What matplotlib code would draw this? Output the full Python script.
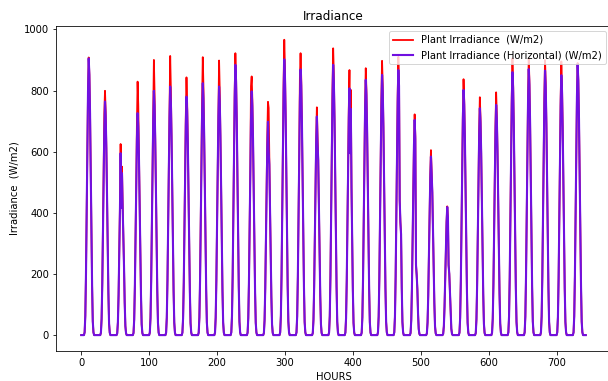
import matplotlib
matplotlib.use("Agg")
import matplotlib.pyplot as plt
import numpy as np

# hourly readings, 31 days, sunlit hours 5..18 (night readings are 0)
n_days = 31
day_hours = [5, 6, 7, 8, 9, 10, 11, 12, 13, 14, 15, 16, 17, 18]

horizontal_day = [
    [9, 63, 199, 407, 615, 796, 905, 851, 724, 543, 344, 163, 45, 9],
    [8, 53, 168, 344, 520, 672, 764, 718, 611, 458, 290, 138, 38, 8],
    [6, 42, 131, 268, 405, 595, 416, 530, 420, 330, 226, 107, 30, 6],
    [7, 51, 160, 327, 494, 639, 726, 682, 581, 436, 276, 131, 36, 7],
    [8, 56, 176, 360, 543, 703, 799, 751, 639, 479, 304, 144, 40, 8],
    [8, 57, 179, 366, 553, 715, 813, 764, 650, 488, 309, 146, 41, 8],
    [8, 55, 172, 351, 530, 686, 780, 733, 624, 468, 296, 140, 39, 8],
    [8, 58, 181, 371, 560, 725, 824, 775, 659, 494, 313, 148, 41, 8],
    [8, 57, 179, 366, 553, 715, 813, 764, 650, 488, 309, 146, 41, 8],
    [9, 62, 194, 398, 601, 778, 884, 831, 707, 530, 336, 159, 44, 9],
    [8, 56, 175, 359, 542, 701, 797, 749, 638, 478, 303, 143, 40, 8],
    [7, 49, 154, 314, 475, 614, 698, 600, 558, 419, 265, 126, 35, 7],
    [9, 63, 198, 406, 613, 794, 902, 848, 722, 541, 343, 162, 45, 9],
    [9, 61, 191, 391, 591, 765, 869, 817, 695, 521, 330, 156, 43, 9],
    [7, 50, 157, 322, 486, 629, 715, 628, 572, 429, 272, 129, 36, 7],
    [9, 62, 194, 398, 601, 778, 884, 831, 707, 530, 336, 159, 44, 9],
    [8, 56, 178, 363, 549, 710, 807, 595, 740, 484, 307, 145, 40, 8],
    [8, 58, 184, 376, 568, 735, 835, 785, 668, 501, 317, 150, 42, 8],
    [9, 60, 187, 383, 579, 749, 851, 800, 681, 511, 323, 153, 43, 9],
    [9, 61, 191, 390, 590, 763, 867, 815, 440, 370, 330, 156, 43, 9],
    [7, 49, 155, 317, 479, 620, 704, 640, 229, 196, 150, 70, 20, 4],
    [6, 41, 128, 263, 397, 514, 584, 530, 467, 350, 222, 105, 29, 6],
    [4, 29, 92, 189, 285, 369, 419, 385, 229, 200, 140, 75, 21, 4],
    [8, 56, 176, 361, 545, 706, 802, 754, 642, 481, 305, 144, 40, 8],
    [7, 52, 163, 334, 505, 653, 742, 697, 594, 445, 282, 134, 37, 7],
    [8, 53, 166, 339, 512, 663, 753, 708, 602, 452, 286, 136, 38, 8],
    [9, 60, 189, 387, 585, 757, 860, 808, 688, 516, 327, 155, 43, 9],
    [9, 61, 191, 392, 592, 766, 870, 818, 696, 522, 331, 157, 44, 9],
    [9, 61, 190, 389, 588, 761, 865, 813, 692, 519, 329, 156, 43, 9],
    [9, 60, 187, 383, 578, 748, 850, 799, 680, 510, 323, 153, 43, 9],
    [9, 62, 195, 398, 602, 779, 885, 832, 708, 531, 336, 159, 44, 9],
]

plant_day = [
    [9, 63, 199, 407, 615, 798, 908, 852, 724, 543, 344, 163, 45, 9],
    [8, 53, 168, 344, 520, 724, 799, 732, 611, 458, 290, 138, 38, 8],
    [6, 42, 131, 270, 420, 625, 430, 551, 430, 335, 226, 107, 30, 6],
    [7, 51, 160, 327, 494, 690, 829, 753, 581, 436, 276, 131, 36, 7],
    [8, 56, 176, 360, 543, 753, 900, 791, 639, 479, 304, 144, 40, 8],
    [8, 57, 179, 366, 553, 765, 913, 804, 650, 488, 309, 146, 41, 8],
    [8, 55, 172, 351, 530, 718, 843, 758, 624, 468, 296, 140, 39, 8],
    [8, 58, 181, 371, 560, 768, 909, 809, 659, 494, 313, 148, 41, 8],
    [8, 57, 179, 366, 553, 758, 898, 798, 650, 488, 309, 146, 41, 8],
    [9, 62, 194, 398, 601, 797, 922, 846, 707, 530, 336, 159, 44, 9],
    [8, 56, 175, 359, 542, 815, 846, 769, 638, 478, 303, 143, 40, 8],
    [7, 49, 154, 314, 475, 650, 763, 743, 570, 419, 265, 126, 35, 7],
    [9, 63, 198, 406, 613, 826, 966, 874, 722, 541, 343, 162, 45, 9],
    [9, 61, 191, 391, 591, 840, 922, 838, 695, 521, 330, 156, 43, 9],
    [7, 50, 157, 322, 486, 645, 745, 650, 572, 429, 272, 129, 36, 7],
    [9, 62, 194, 398, 601, 805, 938, 853, 707, 530, 336, 159, 44, 9],
    [8, 56, 178, 363, 549, 740, 867, 620, 802, 484, 307, 145, 40, 8],
    [8, 58, 184, 376, 568, 754, 873, 800, 668, 501, 317, 150, 42, 8],
    [9, 60, 187, 383, 579, 772, 897, 818, 681, 511, 323, 153, 43, 9],
    [9, 61, 191, 390, 590, 784, 910, 832, 440, 370, 330, 156, 43, 9],
    [7, 49, 155, 317, 479, 629, 722, 650, 229, 196, 150, 70, 20, 4],
    [6, 41, 128, 263, 397, 525, 605, 540, 467, 350, 222, 105, 29, 6],
    [4, 29, 92, 189, 285, 370, 421, 386, 229, 200, 140, 75, 21, 4],
    [8, 56, 176, 361, 545, 724, 837, 768, 642, 481, 305, 144, 40, 8],
    [7, 52, 163, 334, 505, 671, 778, 711, 594, 445, 282, 134, 37, 7],
    [8, 53, 166, 339, 512, 684, 794, 724, 602, 452, 286, 136, 38, 8],
    [9, 60, 189, 387, 585, 780, 905, 826, 688, 516, 327, 155, 43, 9],
    [9, 61, 191, 392, 592, 784, 905, 832, 696, 522, 331, 157, 44, 9],
    [9, 61, 190, 389, 588, 779, 900, 827, 692, 519, 329, 156, 43, 9],
    [9, 60, 187, 383, 578, 771, 895, 817, 680, 510, 323, 153, 43, 9],
    [9, 62, 195, 398, 602, 781, 890, 834, 708, 531, 336, 159, 44, 9],
]

# build the hourly series (0 at night)
hours = np.arange(n_days * 24)
horizontal = np.zeros(len(hours))
plant = np.zeros(len(hours))
for d in range(n_days):
    idx = [d * 24 + h for h in day_hours]
    horizontal[idx] = horizontal_day[d]
    plant[idx] = plant_day[d]

fig = plt.figure(figsize=(608 / 72, 381 / 72), dpi=72)
ax = fig.add_axes([56 / 608, 30 / 381, 555 / 608, 325 / 381])

ax.plot(hours, plant, color="red", linewidth=1.8, label="Plant Irradiance  (W/m2)")
ax.plot(hours, horizontal, color="#7010e0", linewidth=2.1, label="Plant Irradiance (Horizontal) (W/m2)")

ax.set_ylim(-52, 1011)
ax.set_title("Irradiance")
ax.set_xlabel("HOURS")
ax.set_ylabel("Irradiance  (W/m2)")
ax.legend(loc="upper right")

fig.savefig("out.png", dpi=72)
